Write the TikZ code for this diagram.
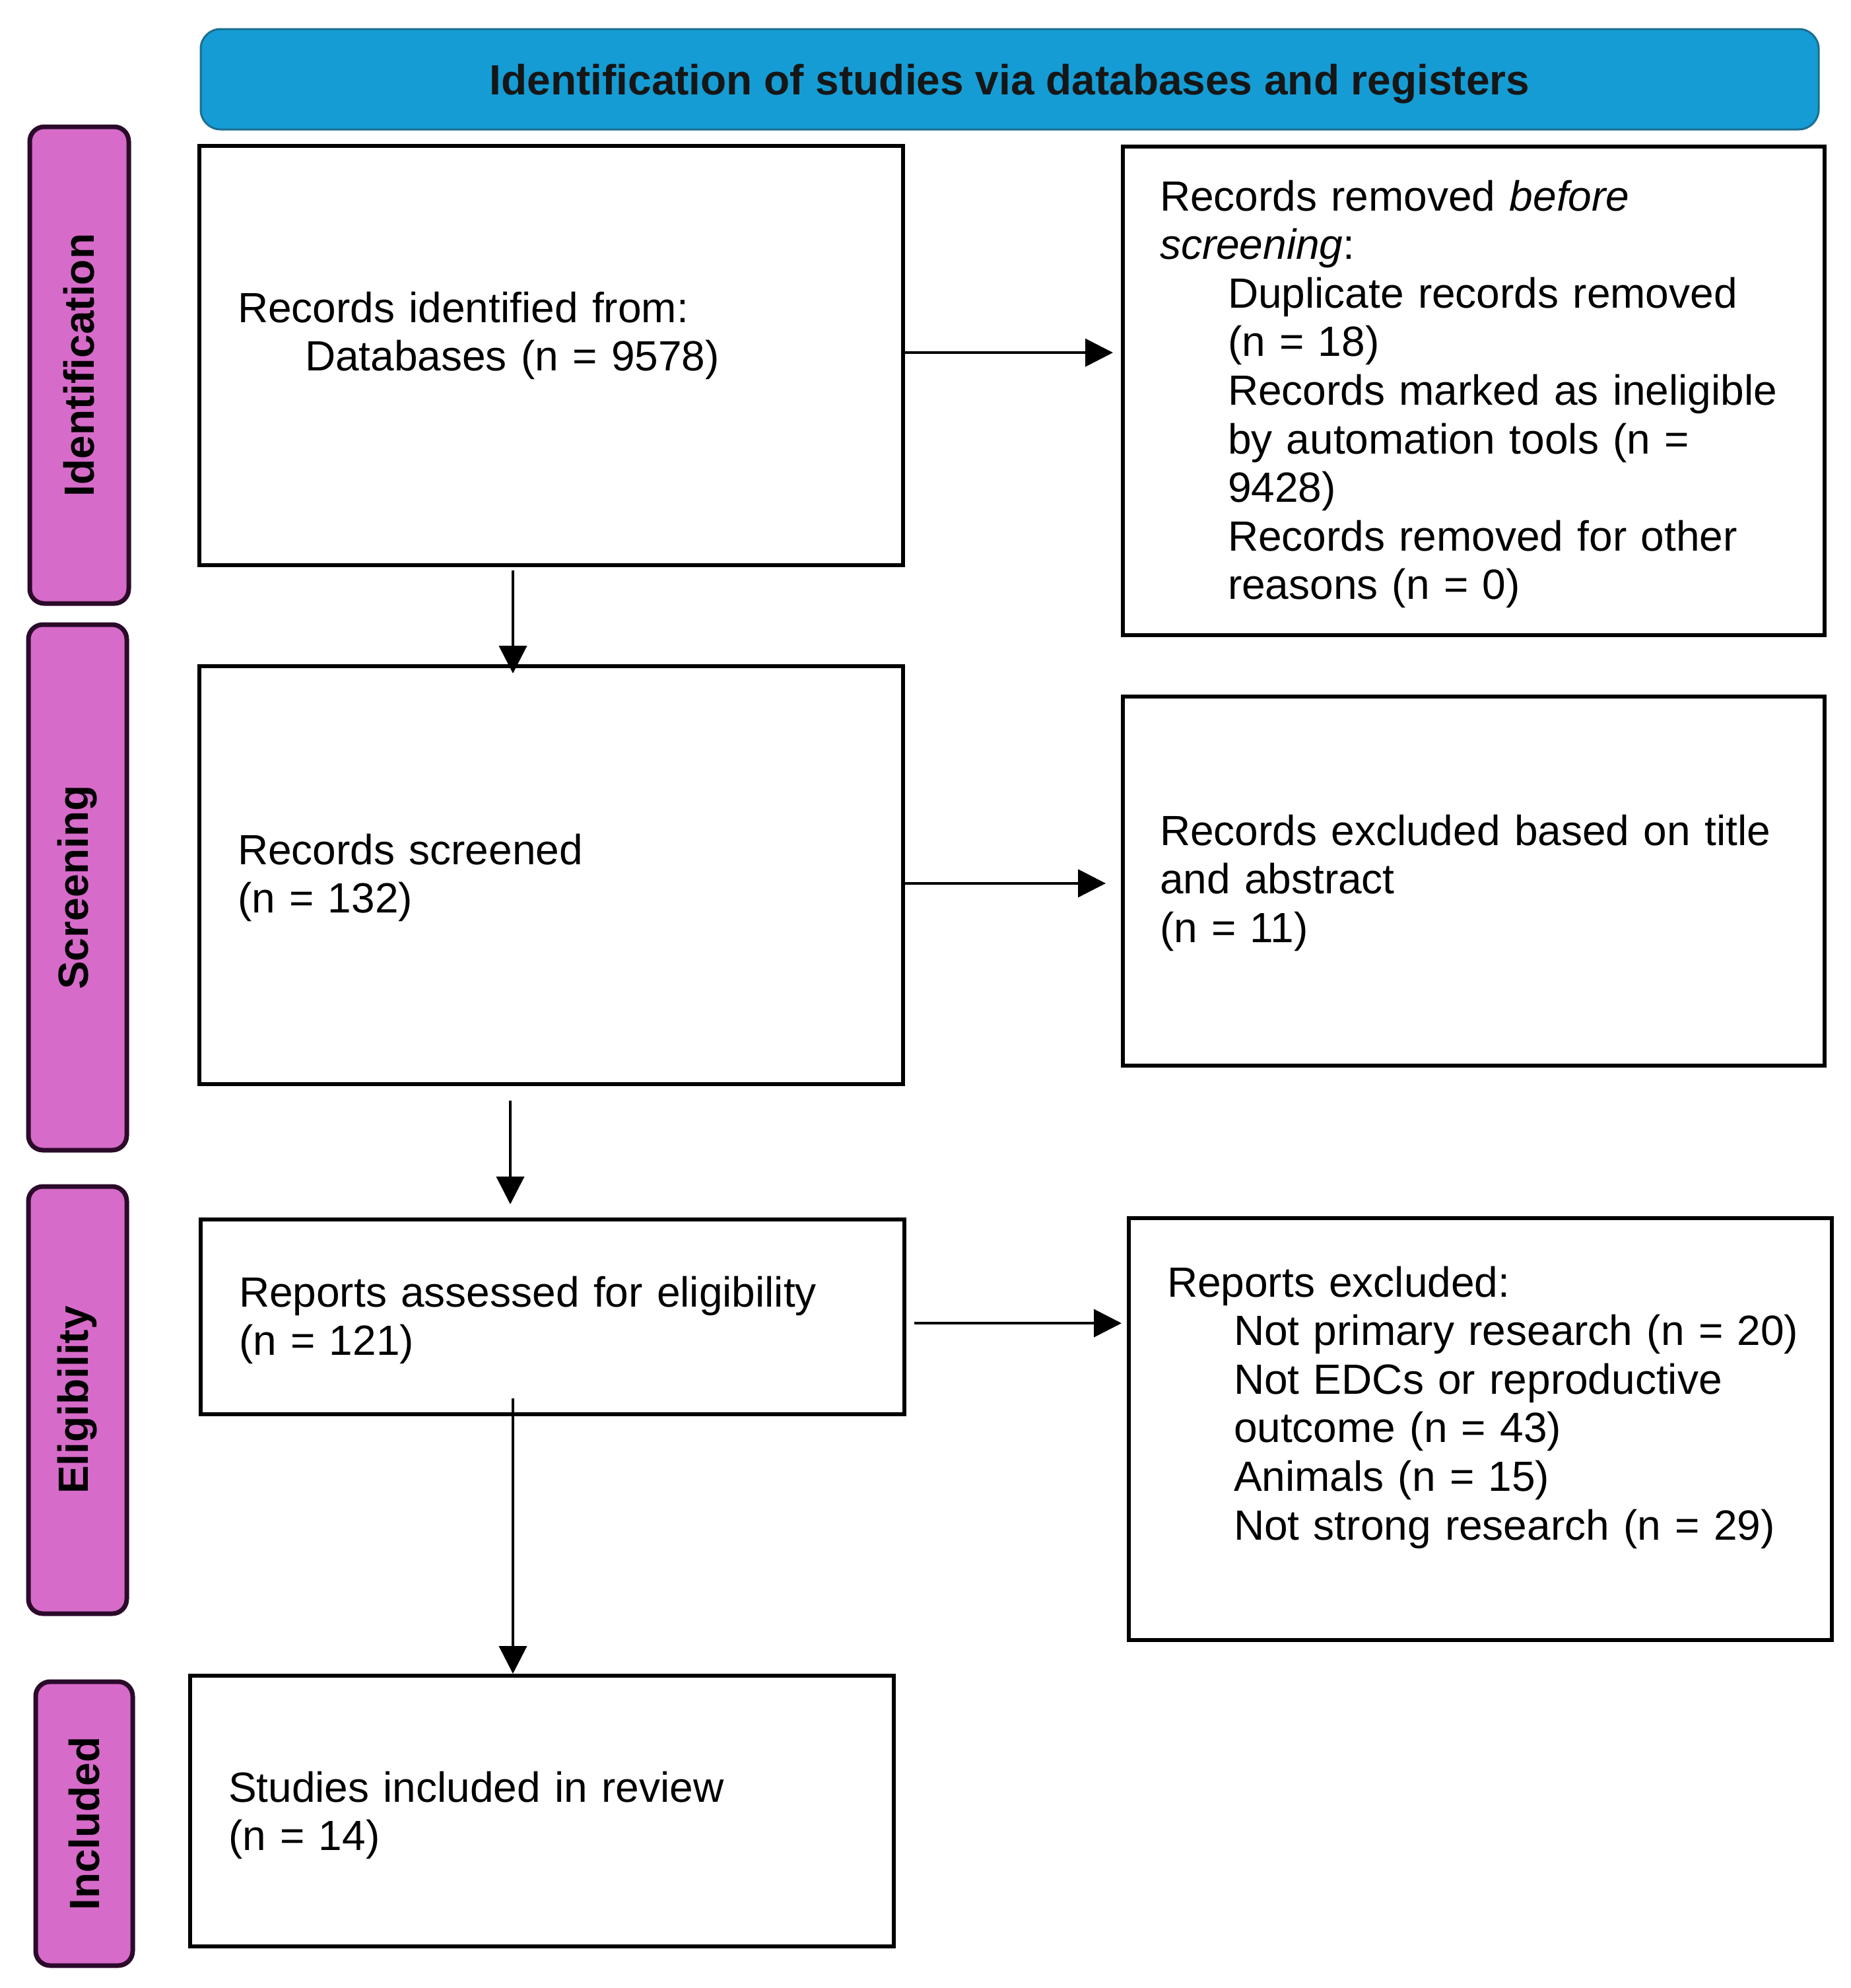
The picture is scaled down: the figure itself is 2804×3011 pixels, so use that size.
\documentclass[tikz,border=0pt]{standalone}
\usepackage{fontspec}
\setmainfont{Liberation Sans}
\usetikzlibrary{arrows.meta}
\definecolor{hdrblue}{HTML}{159CD4}
\definecolor{hdrline}{HTML}{1A6F91}
\definecolor{stagepink}{HTML}{D66BC9}
\definecolor{stageline}{HTML}{2B0A2A}
\definecolor{hdrtext}{HTML}{161616}
\begin{document}
\begin{tikzpicture}[x=0.25pt,y=-0.25pt,
  every node/.style={inner sep=0pt,outer sep=0pt},
  hdrbox/.style={draw=hdrline,line width=0.75pt,fill=hdrblue,rounded corners=7.5pt,
     font=\fontsize{16pt}{18.4pt}\selectfont\bfseries,text=hdrtext,text depth=0pt},
  stagebox/.style={draw=stageline,line width=1.75pt,fill=stagepink,rounded corners=5.5pt,
     rotate=90,font=\fontsize{16pt}{18.4pt}\selectfont\bfseries,text=black},
  flowbox/.style={draw=black,line width=1.7pt,fill=white},
  boxtext/.style={anchor=base west,text width=255pt,align=left,
     font=\fontsize{16pt}{18.4pt}\selectfont},
  arr/.style={line width=1pt,-{Triangle[length=10.5pt,width=10.5pt]}}]
\useasboundingbox (0,0) rectangle (2804,3011);
\fill[white] (0,0) rectangle (2804,3011);

% header
\node[hdrbox,minimum width=612.75pt,minimum height=38pt] (hdr) at (1529.5,120)
  {Identification of studies via databases and registers};

% stage labels
\node[stagebox,minimum width=180.5pt,minimum height=37.5pt] (p1) at (120,553) {Identification};
\node[stagebox,minimum width=199pt,minimum height=37.25pt] (p2) at (117.5,1344) {Screening};
\node[stagebox,minimum width=161.75pt,minimum height=37.25pt] (p3) at (117.5,2120.5) {Eligibility};
\node[stagebox,minimum width=107.5pt,minimum height=36.75pt] (p4) at (127.5,2762) {Included};

% boxes
\node[flowbox,minimum width=266.5pt,minimum height=158.75pt] (b1) at (835,538.5) {};
\node[flowbox,minimum width=265.75pt,minimum height=185pt] (r1) at (2232.5,592) {};
\node[flowbox,minimum width=266.5pt,minimum height=158.25pt] (b2) at (835,1325.5) {};
\node[flowbox,minimum width=265.75pt,minimum height=139.75pt] (r2) at (2232.5,1334.5) {};
\node[flowbox,minimum width=266.5pt,minimum height=73.75pt] (b3) at (837,1994.5) {};
\node[flowbox,minimum width=266.25pt,minimum height=159.75pt] (r3) at (2242.5,2164.5) {};
\node[flowbox,minimum width=266.5pt,minimum height=102.5pt] (b4) at (821,2743) {};

% texts
\node[boxtext] (t1) at (360,488) {Records identified from:\\
  \hspace*{25.5pt}Databases (n = 9578)};
\node[boxtext] (t2) at (1757,319) {Records removed \textit{before}\\
  \textit{screening}:\\
  \hspace*{25.75pt}Duplicate records removed\\
  \hspace*{25.75pt}(n = 18)\\
  \hspace*{25.75pt}Records marked as ineligible\\
  \hspace*{25.75pt}by automation tools (n =\\
  \hspace*{25.75pt}9428)\\
  \hspace*{25.75pt}Records removed for other\\
  \hspace*{25.75pt}reasons (n = 0)};
\node[boxtext] (t3) at (360,1309) {Records screened\\(n = 132)};
\node[boxtext] (t4) at (1757,1280) {Records excluded based on title\\and abstract\\(n = 11)};
\node[boxtext] (t5) at (362,1979) {Reports assessed for eligibility\\(n = 121)};
\node[boxtext] (t6) at (1768,1964) {Reports excluded:\\
  \hspace*{25.25pt}Not primary research (n = 20)\\
  \hspace*{25.25pt}Not EDCs or reproductive\\
  \hspace*{25.25pt}outcome (n = 43)\\
  \hspace*{25.25pt}Animals (n = 15)\\
  \hspace*{25.25pt}Not strong research (n = 29)};
\node[boxtext] (t7) at (346,2729) {Studies included in review\\(n = 14)};

% helper coordinates
\coordinate (xa) at (777,0);
\coordinate (xb) at (773,0);
\coordinate (s2) at ([yshift=1.1pt]b1.east);
\coordinate (s3) at ([yshift=-3.1pt]b2.east);
\coordinate (s5) at ([yshift=-2.4pt]b3.east);

% connectors
\draw[arr,shorten <=2pt,shorten >=-2.75pt] (b1.south -| xa) -- (b2.north -| xa);
\draw[arr,shorten >=3.75pt] (s2) -- (s2 -| r1.west);
\draw[arr,shorten >=6.5pt] (s3) -- (s3 -| r2.west);
\draw[arr,shorten <=6.25pt,shorten >=5.75pt] (b2.south -| xb) -- (b3.north -| xb);
\draw[arr,shorten <=3.75pt,shorten >=2.75pt] (s5) -- (s5 -| r3.west);
\draw[arr,shorten <=-6pt,shorten >=0.75pt] (b3.south -| xa) -- (b4.north -| xa);
\end{tikzpicture}
\end{document}
